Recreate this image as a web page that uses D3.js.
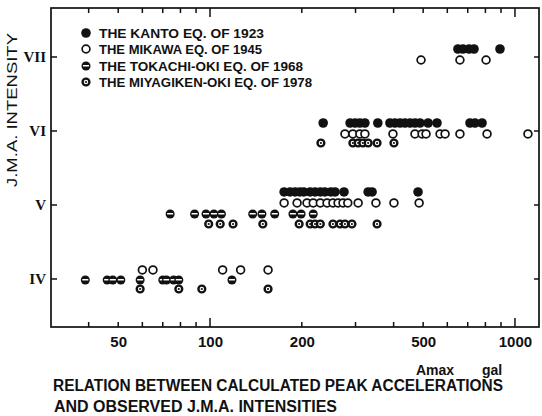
<!DOCTYPE html>
<html>
<head>
<meta charset="utf-8">
<script src="https://cdn.jsdelivr.net/npm/d3@7"></script>
<style>
  html, body { margin: 0; padding: 0; background: #fff; }
  svg { display: block; }
  text { fill: #111; }
</style>
</head>
<body>
<svg id="chart" width="542" height="416"></svg>
<script>
// J.M.A. intensity levels and their roman-numeral labels
const intensityLevels = [4, 5, 6, 7];
const intensityLabels = ["IV", "V", "VI", "VII"];

// Peak-acceleration axis (gal)
const xLabelTicks = [50, 100, 200, 500, 1000];
const xMinorTicks = [40, 50, 60, 70, 80, 90, 200, 300, 400, 500, 600, 700, 800, 900];
const xMajorTicks = [100, 1000];

// Legend entries
const seriesNames = [
  "THE KANTO EQ. OF 1923",
  "THE MIKAWA EQ. OF 1945",
  "THE TOKACHI-OKI EQ. OF 1968",
  "THE MIYAGIKEN-OKI EQ. OF 1978"
];

// Calculated peak accelerations (gal) for each observed intensity
const kantoVII = [650, 675, 707, 734, 893];
const kantoVI = [235, 288, 299, 310, 322, 355, 389, 404, 420, 436, 453, 470, 488, 519, 555, 712, 739, 780];
const kantoV = [175, 183, 190, 197, 203, 213, 221, 230, 238, 249, 257, 275, 330, 340, 481];

const mikawaVII = [492, 660, 804];
const mikawaVI = [277, 294, 310, 322, 398, 470, 496, 511, 568, 590, 660, 810, 1103];
const mikawaV = [175, 193, 208, 218, 230, 242, 253, 263, 273, 283, 306, 350, 401, 485];
const mikawaIV = [60, 65, 110, 126, 155];

const tokachiV = [74, 89, 97, 103, 109, 138, 148, 163, 187, 199, 218];
const tokachiIV = [39, 46, 48, 51, 59, 70, 72, 76, 79, 118];

const miyagiVI = [231, 294, 306, 317, 330, 353, 401];
const miyagiV = [99, 108, 119, 149, 196, 213, 221, 230, 253, 267, 277, 292, 353];
const miyagiIV = [59, 79, 94, 155];

const series = [
  { key: "kanto",   byLevel: { 7: kantoVII, 6: kantoVI, 5: kantoV } },
  { key: "mikawa",  byLevel: { 7: mikawaVII, 6: mikawaVI, 5: mikawaV, 4: mikawaIV } },
  { key: "tokachi", byLevel: { 5: tokachiV, 4: tokachiIV } },
  { key: "miyagi",  byLevel: { 6: miyagiVI, 5: miyagiV, 4: miyagiIV } }
];

// Each earthquake sits on its own sub-row around the intensity line (px)
const rowShift = {
  kanto:   { 7: -8, 6: -8, 5: -13 },
  mikawa:  { 7: 3, 6: 3, 5: -2, 4: -9 },
  tokachi: { 5: 9, 4: 1 },
  miyagi:  { 6: 12, 5: 19, 4: 10 }
};

const svg = d3.select("#chart");
const plotLeft = 51, plotRight = 539, plotTop = 8, plotBottom = 327;

const x = d3.scaleLog().domain([30.1, 1199]).range([plotLeft, plotRight]);
const y = d3.scaleLinear().domain([3.351, 7.662]).range([plotBottom, plotTop]);

const sans = "'Liberation Sans', Arial, sans-serif";
const serif = "'Liberation Serif', 'DejaVu Serif', serif";
const ink = "#111";

// Frame
svg.append("rect")
  .attr("x", plotLeft).attr("y", plotTop)
  .attr("width", plotRight - plotLeft).attr("height", plotBottom - plotTop)
  .attr("fill", "none").attr("stroke", ink).attr("stroke-width", 1.7);

// Inward tick marks on all four sides
const ticks = svg.append("g").attr("stroke", ink).attr("stroke-width", 1.5);
function xTicks(values, len) {
  ticks.selectAll(null).data(values).join("line")
    .attr("x1", d => x(d)).attr("x2", d => x(d))
    .attr("y1", plotBottom).attr("y2", plotBottom - len);
  ticks.selectAll(null).data(values).join("line")
    .attr("x1", d => x(d)).attr("x2", d => x(d))
    .attr("y1", plotTop).attr("y2", plotTop + len);
}
xTicks(xMinorTicks, 5);
xTicks(xMajorTicks, 9);
ticks.selectAll(null).data(intensityLevels).join("line")
  .attr("x1", plotLeft).attr("x2", plotLeft + 6)
  .attr("y1", d => y(d)).attr("y2", d => y(d));
ticks.selectAll(null).data(intensityLevels).join("line")
  .attr("x1", plotRight).attr("x2", plotRight - 5)
  .attr("y1", d => y(d)).attr("y2", d => y(d));

// Bottom labels
const xl = svg.append("g").attr("transform", `translate(0,${plotBottom})`)
  .call(d3.axisBottom(x).tickValues(xLabelTicks).tickSize(0).tickPadding(9)
    .tickFormat(d3.format("d")));
xl.select(".domain").remove();
xl.selectAll("text").attr("font-family", sans).attr("font-size", 15)
  .attr("fill", ink).attr("font-weight", "bold");

// Left intensity labels
const yl = svg.append("g").attr("transform", `translate(${plotLeft},0)`)
  .call(d3.axisLeft(y).tickValues(intensityLevels).tickSize(0).tickPadding(5)
    .tickFormat((d, i) => intensityLabels[i]));
yl.select(".domain").remove();
yl.selectAll("text").attr("font-family", serif).attr("font-size", 15)
  .attr("font-weight", "bold").attr("fill", ink);

// Axis titles
svg.append("text")
  .attr("transform", "translate(17,110) rotate(-90)")
  .attr("text-anchor", "middle")
  .attr("font-family", sans).attr("font-size", 14)
  .attr("textLength", 154).attr("lengthAdjust", "spacingAndGlyphs")
  .text("J.M.A.  INTENSITY");

svg.append("text").attr("x", 416).attr("y", 375)
  .attr("font-family", sans).attr("font-size", 14).attr("font-weight", "bold")
  .text("Amax");
svg.append("text").attr("x", 482).attr("y", 375)
  .attr("font-family", sans).attr("font-size", 14).attr("font-weight", "bold")
  .text("gal");

// Caption
svg.append("text").attr("x", 53).attr("y", 391)
  .attr("font-family", sans).attr("font-size", 16).attr("font-weight", "bold")
  .attr("textLength", 450).attr("lengthAdjust", "spacingAndGlyphs")
  .text("RELATION BETWEEN CALCULATED PEAK ACCELERATIONS");
svg.append("text").attr("x", 54).attr("y", 412)
  .attr("font-family", sans).attr("font-size", 16).attr("font-weight", "bold")
  .attr("textLength", 283).attr("lengthAdjust", "spacingAndGlyphs")
  .text("AND OBSERVED J.M.A. INTENSITIES");

// Marker glyphs
function drawMarker(g, key, cx, cy) {
  if (key === "kanto") {
    g.append("circle").attr("cx", cx).attr("cy", cy).attr("r", 4.8).attr("fill", ink);
  } else if (key === "mikawa") {
    g.append("circle").attr("cx", cx).attr("cy", cy).attr("r", 3.9)
      .attr("fill", "#fff").attr("stroke", ink).attr("stroke-width", 1.7);
  } else if (key === "tokachi") {
    g.append("circle").attr("cx", cx).attr("cy", cy).attr("r", 4.5).attr("fill", ink);
    g.append("rect").attr("x", cx - 3).attr("y", cy - 1).attr("width", 6).attr("height", 1.5)
      .attr("fill", "#fff");
  } else {
    g.append("circle").attr("cx", cx).attr("cy", cy).attr("r", 3.4)
      .attr("fill", "#fff").attr("stroke", ink).attr("stroke-width", 2.4);
    g.append("circle").attr("cx", cx).attr("cy", cy).attr("r", 1.1).attr("fill", ink);
  }
}

// Data points
const pts = svg.append("g");
series.forEach(s => {
  Object.keys(s.byLevel).forEach(lv => {
    s.byLevel[lv].forEach(gal => {
      drawMarker(pts, s.key, x(gal), y(+lv) + rowShift[s.key][lv]);
    });
  });
});

// Legend
const legendY = [33, 49, 66, 82];
const legendWidth = [165, 163, 204, 213];
const lg = svg.append("g");
series.forEach((s, i) => {
  drawMarker(lg, s.key, 86, legendY[i]);
  lg.append("text").attr("x", 99).attr("y", legendY[i] + 5)
    .attr("font-family", sans).attr("font-size", 13).attr("font-weight", "bold")
    .attr("textLength", legendWidth[i]).attr("lengthAdjust", "spacingAndGlyphs")
    .text(seriesNames[i]);
});
</script>
</body>
</html>
